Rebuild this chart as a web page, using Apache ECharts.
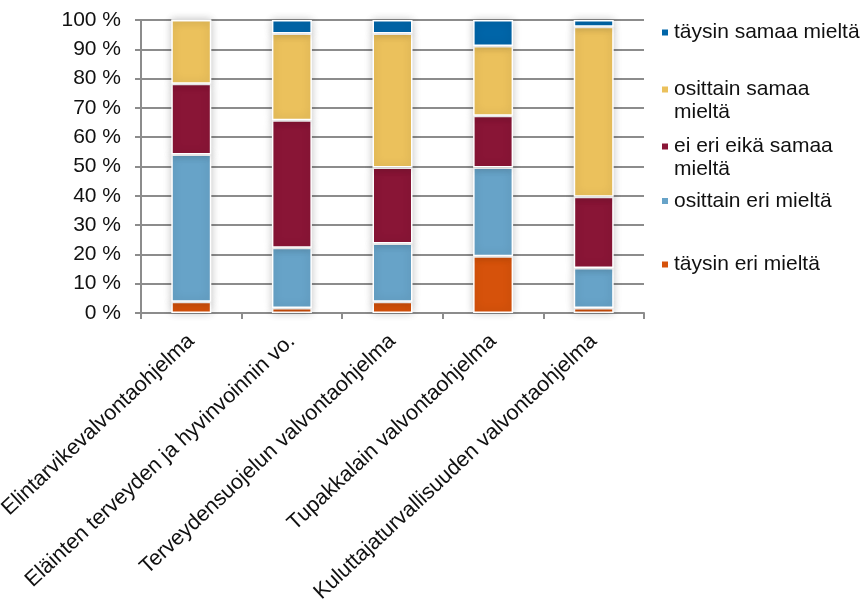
<!DOCTYPE html>
<html>
<head>
<meta charset="utf-8">
<script src="https://cdn.jsdelivr.net/npm/echarts@6/dist/echarts.min.js"></script>
<style>
  html, body { margin: 0; padding: 0; background: #ffffff; }
  #chart { width: 866px; height: 604px; }
</style>
</head>
<body>
<div id="chart"></div>
<script>
// Programmes (categories along the x axis)
const categories = [
  'Elintarvikevalvontaohjelma',
  'Eläinten terveyden ja hyvinvoinnin vo.',
  'Terveydensuojelun valvontaohjelma',
  'Tupakkalain valvontaohjelma',
  'Kuluttajaturvallisuuden valvontaohjelma'
];

// Answer shares in percent, stacked bottom-up
const taysinEri = [3.8, 1.7, 3.8, 19.4, 1.7];
const osittainEri = [50.3, 20.6, 19.9, 30.3, 13.7];
const eiEriEikaSamaa = [24.1, 43.5, 26.0, 17.6, 24.3];
const osittainSamaa = [21.8, 29.6, 45.7, 23.8, 58.0];
const taysinSamaa = [0, 4.6, 4.6, 8.9, 2.3];

const seriesNames = [
  'täysin eri mieltä',
  'osittain eri mieltä',
  'ei eri eikä samaa mieltä',
  'osittain samaa mieltä',
  'täysin samaa mieltä'
];
const seriesData = [taysinEri, osittainEri, eiEriEikaSamaa, osittainSamaa, taysinSamaa];
const seriesColors = ['#d6520b', '#67a3c8', '#891536', '#ebc15c', '#0065a8'];

// Legend rows shown top-down; wrapped names get an empty first line so the
// marker sits beside their first text line
const legendRows = [
  { name: 'täysin samaa mieltä', label: 'täysin samaa mieltä', top: 21 },
  { name: 'osittain samaa mieltä', label: '\nosittain samaa\nmieltä', top: 55 },
  { name: 'ei eri eikä samaa mieltä', label: '\nei eri eikä samaa\nmieltä', top: 112 },
  { name: 'osittain eri mieltä', label: 'osittain eri mieltä', top: 189.5 },
  { name: 'täysin eri mieltä', label: 'täysin eri mieltä', top: 253 }
];

const FONT = 'Liberation Sans, Arial, sans-serif';
const GRID_GRAY = '#8c8c8c';

const chart = echarts.init(document.getElementById('chart'), null, { renderer: 'canvas' });

const option = {
  backgroundColor: '#ffffff',
  animation: false,
  grid: { left: 141, right: 222, top: 20, bottom: 291, containLabel: false, outerBoundsMode: 'none' },
  legend: legendRows.map(function (row) {
    return {
      data: [row.name],
      left: 660,
      top: row.top,
      orient: 'vertical',
      padding: 0,
      icon: 'rect',
      itemWidth: 8,
      itemHeight: 8,
      selectedMode: false,
      formatter: function () { return row.label; },
      textStyle: {
        fontFamily: FONT,
        fontSize: 21,
        color: '#111111',
        lineHeight: 23
      }
    };
  }),
  xAxis: {
    type: 'category',
    data: categories,
    axisLine: { lineStyle: { color: GRID_GRAY, width: 2 } },
    axisTick: { show: true, length: 6, lineStyle: { color: GRID_GRAY, width: 2 } },
    axisLabel: {
      interval: 0,
      rotate: 43,
      margin: 25,
      fontFamily: FONT,
      fontSize: 21.5,
      color: '#111111'
    },
    splitLine: { show: false }
  },
  yAxis: {
    type: 'value',
    min: 0,
    max: 100,
    interval: 10,
    axisLine: { show: true, lineStyle: { color: GRID_GRAY, width: 2 } },
    axisTick: { show: true, length: 6, lineStyle: { color: GRID_GRAY, width: 2 } },
    axisLabel: {
      formatter: '{value} %',
      margin: 20,
      fontFamily: FONT,
      fontSize: 21,
      color: '#111111'
    },
    splitLine: { show: true, lineStyle: { color: GRID_GRAY, width: 2 } }
  },
  series: seriesNames.map(function (name, k) {
    return {
      name: name,
      type: 'bar',
      stack: 'total',
      barWidth: 40,
      data: seriesData[k],
      itemStyle: {
        color: seriesColors[k],
        borderColor: '#ffffff',
        borderWidth: 1.5,
        shadowBlur: 8,
        shadowColor: 'rgba(0,0,0,0.22)',
        shadowOffsetX: 0,
        shadowOffsetY: 0
      }
    };
  })
};

chart.setOption(option);
</script>
</body>
</html>
